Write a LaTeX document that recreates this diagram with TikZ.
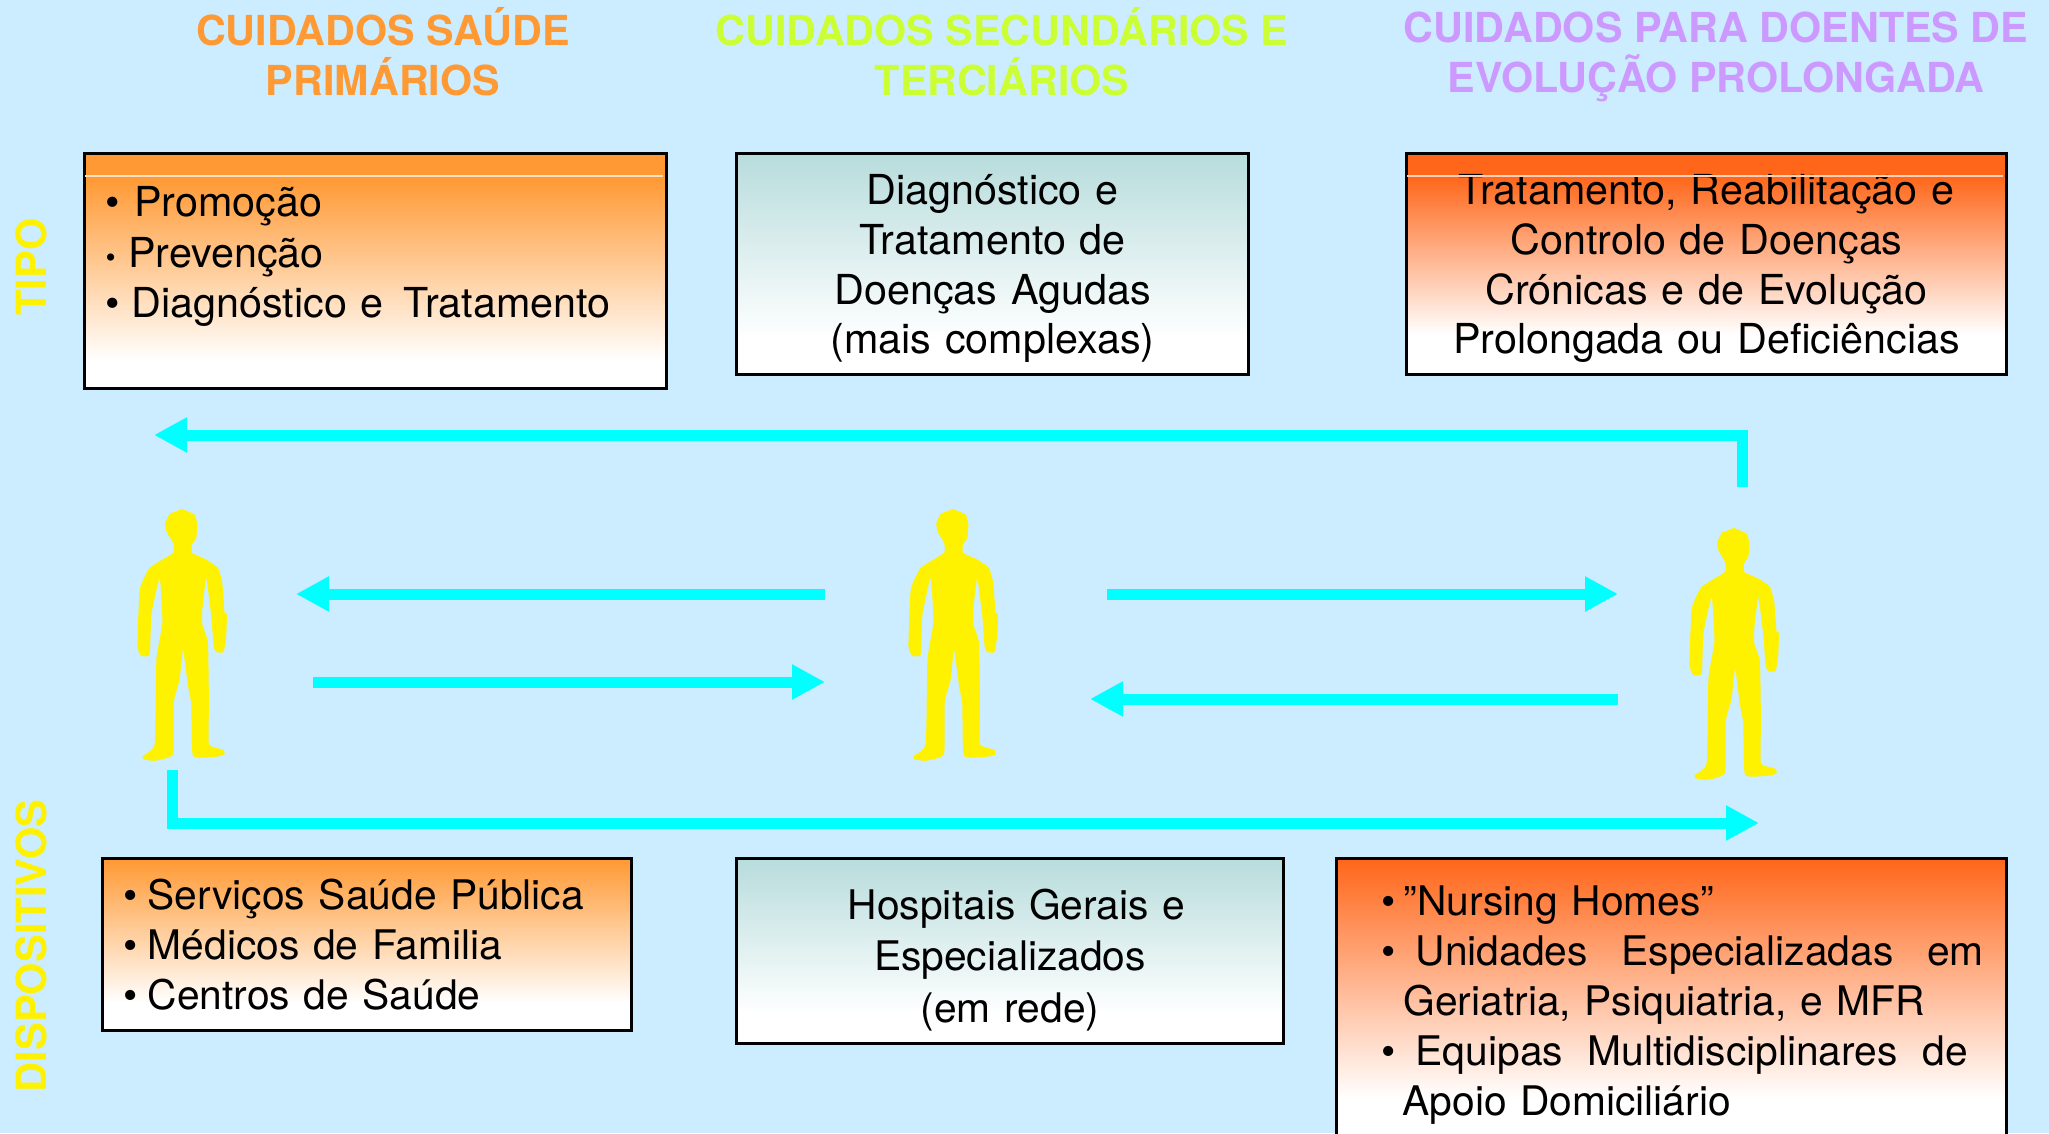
\documentclass[tikz,border=0pt]{standalone}
\usepackage{fontspec}
\setmainfont{TeX Gyre Heros}
\usetikzlibrary{arrows.meta}
\definecolor{fundo}{HTML}{CCECFF}
\definecolor{laranja}{HTML}{FF9933}
\definecolor{lima}{HTML}{CCFF33}
\definecolor{lilas}{HTML}{CC99FF}
\definecolor{vermelho}{HTML}{FF6619}
\definecolor{verdeagua}{HTML}{B8DCDC}
\definecolor{corpo}{HTML}{FFF200}
\definecolor{ciano}{HTML}{00FFFF}
\pgfdeclareverticalshading{faixalaranja}{100bp}{color(0bp)=(white); color(31bp)=(white); color(70bp)=(laranja); color(100bp)=(laranja)}
\pgfdeclareverticalshading{faixavermelha}{100bp}{color(0bp)=(white); color(34bp)=(white); color(70bp)=(vermelho); color(100bp)=(vermelho)}
\pgfdeclareverticalshading{desceverde}{100bp}{color(0bp)=(white); color(33bp)=(white); color(75bp)=(verdeagua); color(100bp)=(verdeagua)}
\pgfdeclareverticalshading{descelaranja}{100bp}{color(0bp)=(white); color(33bp)=(white); color(75bp)=(laranja); color(100bp)=(laranja)}
\pgfdeclareverticalshading{descevermelha}{100bp}{color(0bp)=(white); color(33bp)=(white); color(75bp)=(vermelho); color(100bp)=(vermelho)}
\tikzset{
    titulo/.style={font=\fontsize{11.75}{14.1}\selectfont\bfseries, align=center},
    lateral/.style={font=\fontsize{11.85}{14.3}\selectfont\bfseries, text=yellow, rotate=90},
    caixa/.style={draw=black, line width=0.3mm, anchor=north west, inner ysep=0pt, font=\fontsize{11.75}{14.2}\selectfont, align=center},
    miuda/.style={font=\fontsize{11.6}{14.2}\selectfont},
    seta/.style={-{Triangle[length=3.3mm, width=3.3mm]}, draw=ciano, line width=1.1mm},
    risca/.style={line width=0.2mm, draw=#1},
    pics/pessoa/.style={code={
        \fill[corpo, x=0.003333cm, y=-0.003333cm] plot[smooth, tension=0.25] coordinates {(0, 0) (38, 17) (46, 47) (43, 87) (30, 107) (30, 132) (73, 152) (108, 177) (121, 222) (128, 312) (135, 314) (133, 382) (125, 430) (103, 430) (95, 412) (88, 322) (73, 207) (61, 302) (61, 347) (78, 402) (81, 587) (81, 707) (125, 724) (128, 737) (108, 744) (33, 742) (28, 587) (18, 532) (3, 422) (-7, 512) (-25, 582) (-27, 737) (-82, 757) (-117, 752) (-117, 742) (-82, 707) (-77, 452) (-59, 342) (-67, 207) (-92, 317) (-97, 437) (-122, 442) (-134, 412) (-127, 242) (-97, 177) (-27, 132) (-27, 102) (-47, 67) (-50, 42) (-37, 14)} -- cycle;
    }},
}
\begin{document}
\begin{tikzpicture}
    \useasboundingbox (0, 0) rectangle (20.49, 11.33);
    \clip (0, 0) rectangle (20.49, 11.33);
    \fill[fundo] (0, 0) rectangle (20.49, 11.33);

    \draw (3.83, 10.81) node[titulo, text=laranja] (tituloA) {CUIDADOS SAÚDE\\PRIMÁRIOS};
    \draw (10.02, 10.81) node[titulo, text=lima] (tituloB) {CUIDADOS SECUNDÁRIOS E\\TERCIÁRIOS};
    \draw (17.16, 10.76) node[titulo, text=lilas] (tituloC) {CUIDADOS PARA DOENTES DE\\EVOLUÇÃO PROLONGADA};
    \draw (0.315, 8.66) node[lateral] (tipo) {TIPO};
    \draw (0.315, 1.87) node[lateral] (dispositivos) {DISPOSITIVOS};

    \draw (0.83, 9.81) node[caixa, shading=faixalaranja, minimum width=5.82cm, minimum height=2.35cm, text width=5.40cm, inner xsep=0.21cm, align=left] (tipoA) {\textbullet\hspace{0.145cm}Promoção\\[0.5pt]\scalebox{0.7}{\textbullet}\hspace{0.125cm}Prevenção\\\textbullet\hspace{0.115cm}Diagnóstico e\hspace{0.2cm}Tratamento\par\kern0.29cm};
    \draw (7.35, 9.81) node[caixa, shading=desceverde, minimum width=5.12cm, minimum height=2.21cm, text width=5.00cm, inner xsep=0.06cm] (tipoB) {Diagnóstico e\\Tratamento de\\Doenças Agudas\\(mais complexas)\par\kern-0.09cm};
    \draw (14.05, 9.81) node[caixa, shading=faixavermelha, minimum width=6.00cm, minimum height=2.21cm, text width=5.88cm, inner xsep=0.06cm] (tipoC) {Tratamento, Reabilitação e\\Controlo de Doenças\\Crónicas e de Evolução\\Prolongada ou Deficiências\par\kern-0.09cm};
    \draw (1.01, 2.76) node[caixa, miuda, shading=descelaranja, minimum width=5.29cm, minimum height=1.72cm, text width=4.87cm, inner xsep=0.21cm, align=left] (dispA) {\textbullet\hspace{0.1cm}Serviços Saúde Pública\\\textbullet\hspace{0.1cm}Médicos de Familia\\\textbullet\hspace{0.1cm}Centros de Saúde};
    \draw (7.35, 2.76) node[caixa, miuda, shading=desceverde, minimum width=5.47cm, minimum height=1.85cm, text width=5.35cm, inner xsep=0.06cm] (dispB) {\hspace*{0.13cm}Hospitais Gerais e\\[0.45pt]Especializados\\[0.45pt](em rede)\par\kern-0.18cm};
    \draw (13.35, 2.76) node[caixa, miuda, shading=descevermelha, minimum width=6.70cm, minimum height=2.85cm, text width=6.60cm, inner xsep=0.05cm, align=left] (dispC) {\hspace*{0.4cm}\textbullet\hspace{0.08cm}”Nursing Homes”\\\hspace*{0.4cm}\textbullet\hspace{0.2cm}\makebox[5.68cm][s]{Unidades\hfill Especializadas\hfill em}\\\hspace*{0.62cm}Geriatria, Psiquiatria, e MFR\\\hspace*{0.4cm}\textbullet\hspace{0.2cm}\makebox[5.52cm][s]{Equipas\hfill Multidisciplinares\hfill de}\\\hspace*{0.61cm}Apoio Domiciliário\par\kern-0.08cm};

    \draw[risca=laranja!30!white] (0.85, 9.57) -- (6.63, 9.57);
    \draw[risca=vermelho!30!white] (14.07, 9.57) -- (20.03, 9.57);

    \pic (pessoaA) at (1.82, 6.24) {pessoa};
    \pic (pessoaB) at (9.53, 6.24) {pessoa};
    \pic (pessoaC) at (17.34, 6.05) {pessoa};

    \coordinate (voltaIni) at (17.42, 6.46);
    \coordinate (voltaFim) at (1.54, 6.98);
    \coordinate (abEsq) at (8.25, 5.39);
    \coordinate (abDir) at (2.96, 5.39);
    \coordinate (baEsq) at (3.13, 4.51);
    \coordinate (baDir) at (8.25, 4.51);
    \coordinate (cdEsq) at (11.07, 5.39);
    \coordinate (cdDir) at (16.18, 5.39);
    \coordinate (dcDir) at (16.18, 4.34);
    \coordinate (dcEsq) at (10.90, 4.34);
    \coordinate (idaIni) at (1.725, 3.63);
    \coordinate (idaFim) at (17.59, 3.10);

    \draw[seta] (voltaIni) |- (voltaFim);
    \draw[seta] (abEsq) -- (abDir);
    \draw[seta] (baEsq) -- (baDir);
    \draw[seta] (cdEsq) -- (cdDir);
    \draw[seta] (dcDir) -- (dcEsq);
    \draw[seta] (idaIni) |- (idaFim);
\end{tikzpicture}
\end{document}
